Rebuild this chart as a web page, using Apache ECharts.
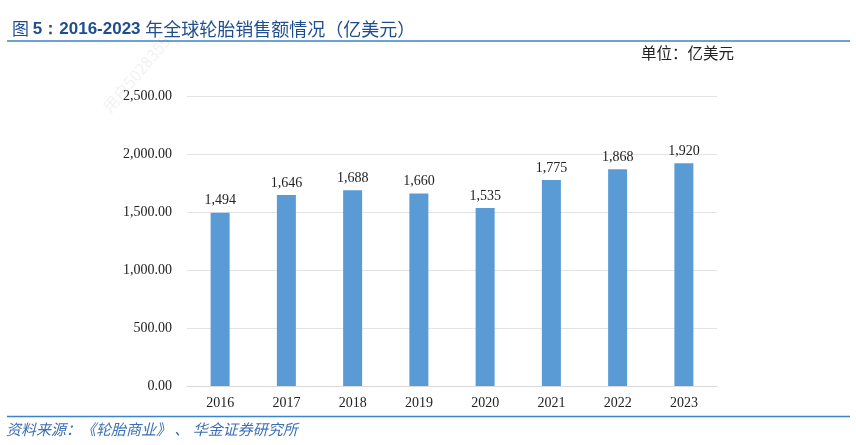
<!DOCTYPE html>
<html><head><meta charset="utf-8">
<script src="https://cdn.jsdelivr.net/npm/echarts@6/dist/echarts.min.js"></script>
<style>html,body{margin:0;padding:0;background:#fff}#c{width:856px;height:445px}</style>
</head><body><div id="c"></div>
<script>
const categories = ['2016','2017','2018','2019','2020','2021','2022','2023'];
const sales = [1494, 1646, 1688, 1660, 1535, 1775, 1868, 1920];
const yTicks = [0, 500, 1000, 1500, 2000, 2500];

const chart = echarts.init(document.getElementById('c'));
const serif = '"Liberation Serif","Times New Roman",serif';
chart.setOption({
  animation: false,
  grid: {left: 187, right: 139, top: 96, bottom: 59, containLabel: false},
  title: [{
    text: '{c|图 }{a|5：2016-2023 }{b|年全球轮胎销售额情况（亿美元）}',
    left: 7, top: 15,
    textStyle: {fontWeight: 'normal', rich: {
      c: {fontFamily: '"Noto Sans CJK SC",sans-serif', fontWeight: 'normal', fontSize: 17, color: '#1F4E8F'},
      a: {fontFamily: '"Liberation Sans",Arial,sans-serif', fontWeight: 'bold', fontSize: 17, color: '#1F4E8F'},
      b: {fontFamily: '"Noto Sans CJK SC",sans-serif', fontWeight: 'normal', fontSize: 18, color: '#1F4E8F'}
    }}
  }],
  graphic: [
    {type: 'line', shape: {x1: 7, y1: 41, x2: 850, y2: 41}, style: {stroke: '#3A84C9', lineWidth: 1.5}},
    {type: 'line', shape: {x1: 7, y1: 416.5, x2: 850, y2: 416.5}, style: {stroke: '#3A84C9', lineWidth: 1.5}},
    {type: 'text', left: 641, top: 45, style: {text: '单位：亿美元', font: '15.5px "Noto Sans CJK SC",sans-serif', fill: '#222'}},
    {type: 'text', left: 6, top: 422, style: {text: '资料来源：《轮胎商业》 、 华金证券研究所', font: 'italic 15px "Noto Sans CJK SC",sans-serif', fill: '#3B6FB5'}},
    {type: 'text', x: 100, y: 105, rotation: Math.PI * 50 / 180, style: {text: '用户5028355', font: '16px "Noto Sans CJK SC",sans-serif', fill: 'rgba(0,0,0,0.06)'}}
  ],
  xAxis: {
    type: 'category', data: categories,
    axisLine: {lineStyle: {color: '#D9D9D9'}},
    axisTick: {show: false},
    axisLabel: {fontFamily: serif, fontSize: 14, color: '#222', margin: 10}
  },
  yAxis: {
    type: 'value', min: 0, max: 2500, interval: 500,
    axisLine: {show: false}, axisTick: {show: false},
    axisLabel: {fontFamily: serif, fontSize: 14, color: '#222', margin: 15,
      formatter: v => yTicks.includes(v) ? v.toLocaleString('en-US', {minimumFractionDigits: 2, maximumFractionDigits: 2}) : ''},
    splitLine: {lineStyle: {color: '#E3E3E3'}}
  },
  series: [{
    type: 'bar', data: sales, barWidth: 19,
    itemStyle: {color: '#5B9BD5'},
    label: {show: true, position: 'top', distance: 5, fontFamily: serif, fontSize: 14, color: '#222',
      formatter: p => p.value.toLocaleString('en-US')}
  }]
});
</script></body></html>
